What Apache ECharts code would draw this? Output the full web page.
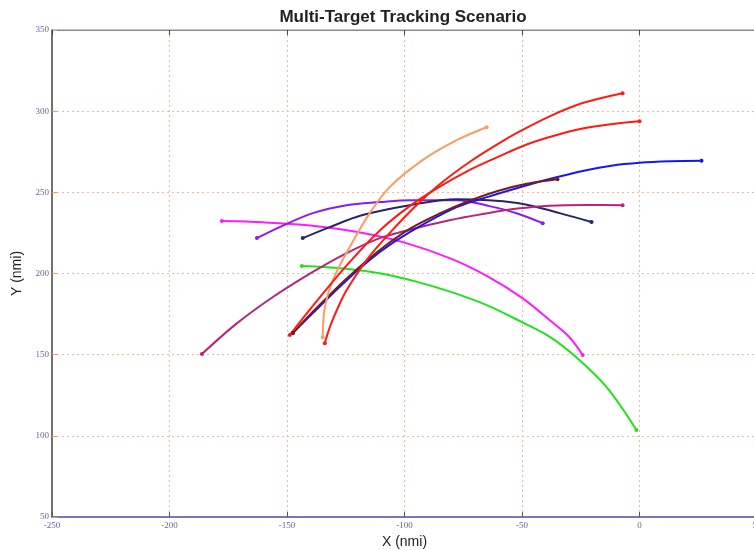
<!DOCTYPE html>
<html><head><meta charset="utf-8">
<script src="https://cdn.jsdelivr.net/npm/echarts@6/dist/echarts.min.js"></script>
<style>html,body{margin:0;padding:0;background:#fff}#c{width:754px;height:550px}</style>
</head><body><div id="c"></div>
<script>
const xTicks = [-250, -200, -150, -100, -50, 0, 50];
const yTicks = [50, 100, 150, 200, 250, 300, 350];

const trackGreen   = [[-143.7,204.6],[-125,203],[-110,200],[-95,195],[-80,188.5],[-65,180.5],[-50,170],[-38,160.8],[-27,148.5],[-14,130],[-1.3,103.6]];
const trackMagenta = [[-177.7,232.3],[-160,231.5],[-140,229.5],[-120,225.5],[-100,219],[-80,209],[-65,198.5],[-50,185],[-38,171],[-30,161],[-24.2,149.8]];
const trackViolet  = [[-162.8,221.8],[-153.1,228.6],[-139.0,237.2],[-124.6,242.1],[-110.5,244.0],[-97.8,245.2],[-77.8,245.2],[-63.8,241.5],[-52.0,237.0],[-41.2,231.0]];
const trackNavy    = [[-143.3,221.8],[-131.8,228.6],[-117.8,236.0],[-97.8,242.1],[-77.8,245.8],[-52.0,243.5],[-34.0,237.2],[-20.4,231.7]];
const trackBlue    = [[-147.5,163.3],[-139.0,175.6],[-124.6,195.9],[-110.5,213.2],[-97.8,225.5],[-77.8,240.9],[-63.8,247.5],[-52.3,252.5],[-38.3,258.2],[-24.2,263.2],[-12,266.4],[0,268.2],[13,269.1],[26.4,269.4]];
const trackBrown   = [[-147.5,163.3],[-139,176.5],[-124.6,197],[-110.5,214.5],[-97.8,227.5],[-85,237],[-72,245],[-60,251],[-48,255.3],[-34.9,258.1]];
const trackCrimson = [[-186.2,150.4],[-172,168.5],[-156,185.5],[-139,201],[-124.6,212.6],[-110.5,221.8],[-97.8,227],[-80.8,232.8],[-66,236.8],[-52,240],[-38.3,241.8],[-22,242.2],[-7.2,242.1]];
const trackRedLow  = [[-148.8,162.1],[-139,180],[-124.6,205],[-110.5,226.5],[-97.8,241.5],[-85,253.5],[-72,264],[-60,272],[-48,279.5],[-36,285],[-24.2,289.3],[-12,292],[0,293.8]];
const trackRedHigh = [[-133.9,157.1],[-131.5,168],[-128,180],[-124.6,189.8],[-116,208.5],[-106.3,224.9],[-96,240.5],[-85,255],[-72,269],[-60,280],[-51,287.5],[-38,297],[-24.2,305],[-7.2,311.1]];
const trackOrange  = [[-134.8,160.8],[-133.9,179.3],[-130.5,195.9],[-123.3,216.3],[-114.8,237.2],[-106.3,253.2],[-92.3,269.8],[-77.8,282.1],[-65.1,290.1]];

const tracks = [
  {name:'green', data:trackGreen, color:'#22e01e'},
  {name:'magenta', data:trackMagenta, color:'#ff1aff'},
  {name:'violet', data:trackViolet, color:'#8a1cf0'},
  {name:'navy', data:trackNavy, color:'#23246e'},
  {name:'crimson', data:trackCrimson, color:'#b8237c'},
  {name:'blue', data:trackBlue, color:'#1616f5'},
  {name:'brown', data:trackBrown, color:'#7a1c14'},
  {name:'orange', data:trackOrange, color:'#ff9a62'},
  {name:'redLow', data:trackRedLow, color:'#ff1a12'},
  {name:'redHigh', data:trackRedHigh, color:'#ff1a12'}
];

const chart = echarts.init(document.getElementById('c'), null, {renderer:'canvas'});
const gridLine = {show:true, lineStyle:{color:'#f6b896', type:[2,3], width:1}};
chart.setOption({
  animation:false,
  backgroundColor:'#ffffff',
  title:{text:'Multi-Target Tracking Scenario', left:398, top:4, textAlign:'center',
    textStyle:{fontFamily:'Liberation Sans, Arial', fontSize:17, fontWeight:'bold', color:'#222'}},
  grid:{left:52, top:30, width:705, height:487, outerBoundsMode:'none', containLabel:false,
    show:true, borderColor:'#8a8a8a', borderWidth:1},
  xAxis:[{
    type:'value', min:-250, max:50, interval:50, position:'bottom',
    name:'X (nmi)', nameLocation:'middle', nameGap:18,
    nameTextStyle:{fontFamily:'Liberation Sans, Arial', fontSize:14, color:'#222'},
    axisLine:{show:true, onZero:false, lineStyle:{color:'#5c5cc4', width:1.5}},
    axisTick:{show:true, inside:true, length:5, lineStyle:{color:'#555'}},
    axisLabel:{fontFamily:'Liberation Serif, Times New Roman', fontSize:9, color:'#6565a8', margin:4,
      formatter:v => xTicks.includes(v) ? String(v) : ''},
    splitLine:gridLine
  },{
    type:'value', min:-250, max:50, interval:50, position:'top',
    axisLine:{show:true, onZero:false, lineStyle:{color:'#8a8a8a'}},
    axisTick:{show:true, inside:true, length:5, lineStyle:{color:'#444'}},
    axisLabel:{show:false}, splitLine:{show:false}
  }],
  yAxis:{
    type:'value', min:50, max:350, interval:50,
    name:'Y (nmi)', nameLocation:'middle', nameGap:27, nameRotate:90,
    nameTextStyle:{fontFamily:'Liberation Sans, Arial', fontSize:14, color:'#222'},
    axisLine:{show:true, onZero:false, lineStyle:{color:'#555', width:1.5}},
    axisTick:{show:true, inside:true, length:5, lineStyle:{color:'#f39a6a'}},
    axisLabel:{fontFamily:'Liberation Serif, Times New Roman', fontSize:9, color:'#6565a8', margin:3,
      formatter:v => yTicks.includes(v) ? String(v) : ''},
    splitLine:gridLine
  },
  series: tracks.map(t => ({
    type:'line', name:t.name, data:t.data, smooth:0.35,
    showSymbol:true, symbol:'circle',
    symbolSize:(v, p) => (p.dataIndex === 0 || p.dataIndex === t.data.length - 1) ? 4 : 0,
    lineStyle:{color:t.color, width:2},
    itemStyle:{color:t.color, borderWidth:0},
    clip:true
  }))
});
</script></body></html>
